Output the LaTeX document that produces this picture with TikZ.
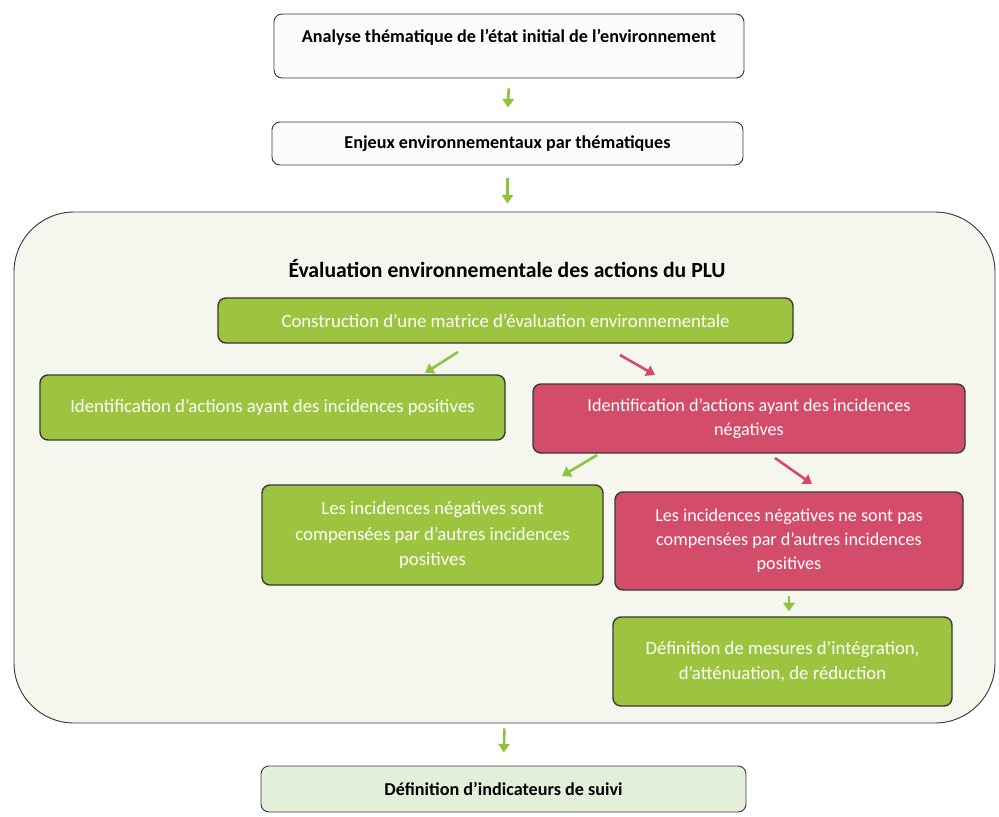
\documentclass[tikz,border=0pt]{standalone}
\usepackage{fontspec}
\setmainfont{Carlito}
\usetikzlibrary{arrows.meta}
\definecolor{vert}{HTML}{9CC43E}
\definecolor{rose}{HTML}{D34C69}
\definecolor{flvert}{HTML}{8DC33F}
\definecolor{flrose}{HTML}{D6496A}
\definecolor{fondeval}{HTML}{F5F7EF}
\definecolor{fondfin}{HTML}{E3EFD9}
\definecolor{bord}{HTML}{3A3A3A}
\tikzset{
  boite/.style={draw=bord, line width=0.8pt, rounded corners=2.4mm, align=center, inner sep=0pt},
  etape/.style={boite, fill=white!97!gray, font=\fontsize{15.5}{19}\selectfont\bfseries},
  action/.style={boite, fill=vert, line width=1.2pt, text=white, font=\fontsize{16}{21.5}\selectfont},
  alerte/.style={boite, fill=rose, line width=1.2pt, text=white, font=\fontsize{15.5}{20.5}\selectfont},
  flv/.style={draw=flvert, line width=2.2pt, -{Triangle[length=2.6mm,width=3.4mm]}},
  flr/.style={draw=flrose, line width=2.2pt, -{Triangle[length=2.6mm,width=3.4mm]}}
}
\begin{document}
\begin{tikzpicture}[x=0.3mm,y=-0.3mm]
  \useasboundingbox (0,0) rectangle (999,816);
  \node[etape, minimum width=141mm, text height=8.4mm, text depth=10.8mm] (analyse) at (509,46) {Analyse thématique de l’état initial de l’environnement};
  \node[etape, minimum width=141.3mm, minimum height=12.9mm] (enjeux) at (507.5,143.5) {Enjeux environnementaux par thématiques};
  % cadre de l'evaluation
  \node[draw=bord, line width=0.8pt, fill=fondeval, rounded corners=18mm, minimum width=294.3mm, minimum height=153.3mm] (eval) at (504.5,467.5) {};
  \node[font=\fontsize{18.5}{22}\selectfont\bfseries] (titre) at (507,268) {Évaluation environnementale des actions du PLU};
  \node[action, minimum width=172.5mm, minimum height=13.5mm] (matrice) at (505.5,320.5) {Construction d’une matrice d’évaluation environnementale};
  \node[action, minimum width=139.5mm, minimum height=19.5mm] (positif) at (272.5,407.5) {Identification d’actions ayant des incidences positives};
  \node[alerte, minimum width=129.6mm, minimum height=20.7mm] (negatif) at (749,418.5) {Identification d’actions ayant des incidences\\négatives};
  \node[action, minimum width=102.3mm, minimum height=30mm] (comp) at (432.5,535) {Les incidences négatives sont\\compensées par d’autres incidences\\positives};
  \node[alerte, minimum width=104.4mm, minimum height=29.4mm] (noncomp) at (789,541) {Les incidences négatives ne sont pas\\compensées par d’autres incidences\\positives};
  \node[action, minimum width=101.7mm, minimum height=26.7mm] (mesures) at (782.5,661.5) {Définition de mesures d’intégration,\\d’atténuation, de réduction};
  \node[etape, fill=fondfin, minimum width=145.5mm, minimum height=13.8mm] (suivi) at (503.5,789) {Définition d’indicateurs de suivi};
  % fleches
  \coordinate (m1) at (458,352); \coordinate (p1) at (425,373);
  \coordinate (m2) at (620,355); \coordinate (n1) at (655,375);
  \coordinate (n2) at (597,455); \coordinate (c1) at (562,476);
  \coordinate (n3) at (775,458); \coordinate (c2) at (812,484);
  \draw[flv, shorten <=3mm, shorten >=4.2mm] (analyse.south) -- (enjeux.north);
  \draw[flv, shorten <=3.9mm, shorten >=2.4mm] (enjeux.south) -- (enjeux.south |- eval.north);
  \draw[flv] (m1) -- (p1);
  \draw[flr] (m2) -- (n1);
  \draw[flv] (n2) -- (c1);
  \draw[flr] (n3) -- (c2);
  \draw[flv, shorten <=1.5mm, shorten >=1.5mm] (noncomp.south) -- (noncomp.south |- mesures.north);
  \draw[flv, shorten <=1.5mm, shorten >=3.9mm] (eval.south) -- (suivi.north);
\end{tikzpicture}
\end{document}
